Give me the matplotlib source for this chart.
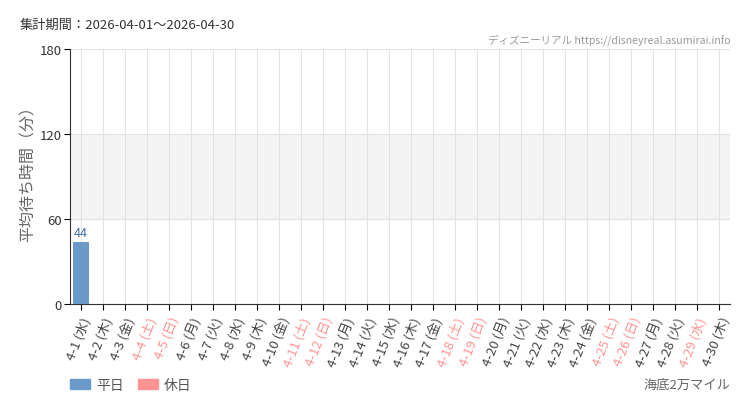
import matplotlib.pyplot as plt
from matplotlib.patches import Patch

plt.rcParams['font.family'] = ['Noto Sans CJK JP', 'DejaVu Sans']

days = [f"4-{d}" for d in range(1, 31)]
weekdays = ['水', '木', '金', '土', '日', '月', '火'] * 5
weekdays = weekdays[:30]
holidays = [4, 5, 11, 12, 18, 19, 25, 26, 29]
wait_times = [44] + [0] * 29

blue = '#6b9ac8'
pink = '#ff9393'

fig = plt.figure(figsize=(7.5, 4.1), dpi=100)
ax = fig.add_axes([0.0933, 0.256, 0.88, 0.622])

x = list(range(len(days)))
colors = [pink if (i + 1) in holidays else blue for i in x]
ax.bar(x, wait_times, width=0.7, color=colors, zorder=3)

# value labels
for i, v in enumerate(wait_times):
    if v > 0:
        ax.text(i, v + 2, str(v), ha='center', va='bottom', fontsize=9,
                color='#3f72a8', zorder=4)

ax.set_xlim(-0.5, len(days) - 0.5)
ax.set_ylim(0, 180)
ax.set_yticks([0, 60, 120, 180])
ax.axhspan(60, 120, color='#f4f4f4', zorder=0)
ax.grid(axis='both', color='#e2e2e2', linewidth=0.8, zorder=1)

ax.set_xticks(x)
labels = [f"{d} ({w})" for d, w in zip(days, weekdays)]
ax.set_xticklabels(labels, rotation=68, ha='right', rotation_mode='anchor',
                   fontsize=9.5)
for i, lab in enumerate(ax.get_xticklabels()):
    lab.set_color(pink if (i + 1) in holidays else '#444444')

ax.tick_params(axis='y', labelsize=9.5, labelcolor='#333333', length=4, pad=2)
ax.tick_params(axis='x', length=4)

ax.spines['top'].set_visible(False)
ax.spines['right'].set_visible(False)
ax.spines['left'].set_color('#333333')
ax.spines['bottom'].set_color('#333333')

ax.set_ylabel('平均待ち時間（分）', fontsize=11.5, color='#666666')
ax.yaxis.set_label_coords(-0.05, 0.53)

fig.text(20 / 750, 1 - 25 / 410, '集計期間：2026-04-01～2026-04-30',
         fontsize=9.5, color='#333333', va='center')
fig.text(730 / 750, 1 - 40 / 410,
         'ディズニーリアル https://disneyreal.asumirai.info',
         fontsize=7.6, color='#999999', ha='right', va='center')
fig.text(730 / 750, 1 - 385 / 410, '海底2万マイル', fontsize=9.5,
         color='#666666', ha='right', va='center')

handles = [Patch(color=blue, label='平日'), Patch(color=pink, label='休日')]
fig.legend(handles=handles, loc='center left', bbox_to_anchor=(57 / 750, 1 - 386 / 410),
           ncol=2, frameon=False, fontsize=10, handlelength=1.5, handleheight=0.8,
           columnspacing=1.0, handletextpad=0.4, labelcolor='#555555')

plt.savefig('out.png', dpi=100)
